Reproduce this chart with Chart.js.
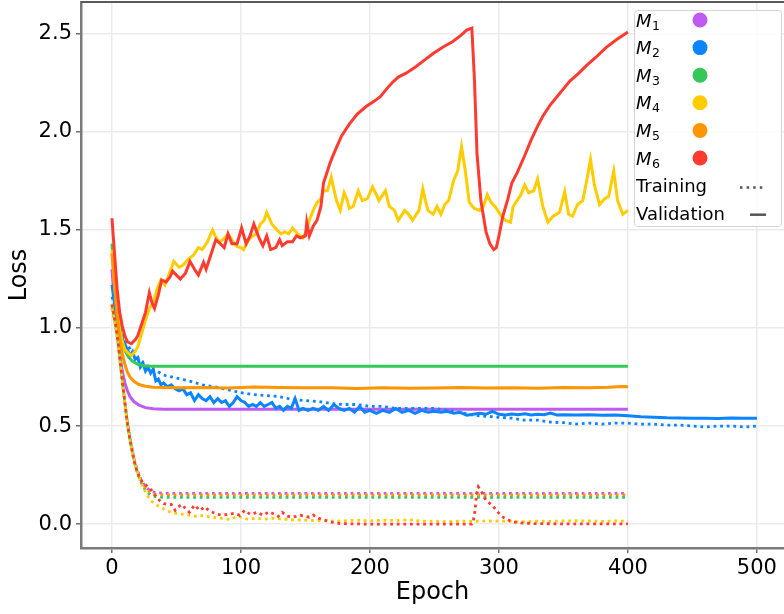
<!DOCTYPE html>
<html>
<head>
<meta charset="utf-8">
<script src="https://cdn.jsdelivr.net/npm/chart.js@4.4.1/dist/chart.umd.min.js"></script>
<style>
  body { margin: 0; background: #fff; }
  canvas { display: block; }
</style>
</head>
<body>
<canvas id="lossChart" width="784" height="614"></canvas>
<script>
// tick labels
const xTicks = [0, 100, 200, 300, 400, 500];
const yTicks = [0, 0.5, 1.0, 1.5, 2.0, 2.5];

const modelNames = ['1', '2', '3', '4', '5', '6'];
const modelColors = ['#BF5AF2', '#0A84FF', '#34C759', '#FFCC00', '#FF9500', '#FF3B30'];

// [epoch, loss]
const m1Train = [[0,1.10],[2,1.04],[4,0.96],[6,0.85],[8,0.73],[10,0.62],[12,0.52],[14,0.44],[16,0.37],[18,0.31],[20,0.27],[22,0.235],[24,0.21],[27,0.185],[30,0.168],[34,0.16],[40,0.157],[400,0.157]];
const m1Val = [[0,1.30],[2,1.13],[4,0.99],[6,0.87],[8,0.78],[10,0.72],[12,0.68],[14,0.65],[17,0.625],[21,0.606],[26,0.594],[32,0.588],[40,0.586],[400,0.586]];

const m2Train = [[0,1.16],[3,1.09],[6,1.03],[9,0.97],[12,0.92],[15,0.88],[18,0.86],[21,0.84],[25,0.82],[30,0.79],[35,0.78],[40,0.76],[50,0.745],[60,0.73],[70,0.71],[80,0.70],[90,0.685],[100,0.67],[110,0.66],[120,0.655],[130,0.65],[140,0.635],[150,0.63],[160,0.625],[170,0.615],[180,0.61],[190,0.61],[200,0.60],[210,0.60],[220,0.59],[230,0.59],[240,0.59],[250,0.59],[260,0.58],[270,0.57],[280,0.555],[290,0.55],[300,0.545],[310,0.54],[320,0.53],[330,0.53],[340,0.52],[350,0.517],[360,0.51],[370,0.515],[380,0.51],[390,0.515],[400,0.515],[410,0.51],[420,0.51],[430,0.505],[440,0.505],[450,0.50],[460,0.495],[470,0.50],[480,0.50],[490,0.495],[500,0.50]];
const m2Val = [[0,1.22],[3,1.08],[6,0.99],[9,0.93],[12,0.89],[14,0.86],[16,0.88],[18,0.84],[20,0.85],[22,0.80],[24,0.82],[26,0.78],[28,0.80],[30,0.77],[32,0.79],[34,0.73],[36,0.74],[38,0.71],[40,0.72],[43,0.70],[46,0.71],[49,0.69],[52,0.68],[55,0.69],[58,0.66],[61,0.67],[64,0.63],[67,0.66],[70,0.64],[73,0.63],[76,0.65],[79,0.62],[82,0.64],[85,0.62],[88,0.63],[91,0.60],[94,0.62],[97,0.65],[100,0.63],[103,0.62],[106,0.60],[109,0.61],[112,0.60],[115,0.62],[118,0.60],[121,0.61],[124,0.62],[127,0.59],[130,0.60],[133,0.58],[136,0.60],[139,0.59],[142,0.64],[145,0.58],[148,0.59],[152,0.58],[156,0.59],[160,0.58],[164,0.60],[168,0.58],[172,0.61],[176,0.59],[180,0.58],[184,0.59],[188,0.57],[192,0.60],[196,0.57],[200,0.58],[205,0.565],[210,0.58],[215,0.57],[220,0.59],[225,0.57],[230,0.58],[235,0.565],[240,0.58],[245,0.57],[250,0.575],[255,0.57],[260,0.575],[265,0.565],[270,0.57],[275,0.555],[280,0.56],[285,0.565],[290,0.56],[295,0.575],[300,0.56],[305,0.556],[310,0.562],[315,0.558],[320,0.563],[325,0.556],[330,0.56],[335,0.558],[340,0.566],[345,0.556],[350,0.558],[360,0.556],[370,0.558],[380,0.555],[390,0.556],[400,0.553],[410,0.547],[420,0.545],[430,0.542],[440,0.541],[450,0.54],[460,0.54],[470,0.539],[480,0.541],[490,0.54],[500,0.54]];

const m3Train = [[0,1.11],[2,1.05],[4,0.97],[6,0.86],[8,0.74],[10,0.62],[12,0.51],[14,0.43],[16,0.36],[18,0.30],[20,0.255],[22,0.22],[24,0.195],[27,0.165],[30,0.148],[34,0.14],[40,0.136],[400,0.136]];
const m3Val = [[0,1.43],[2,1.26],[4,1.11],[6,1.00],[8,0.93],[10,0.885],[13,0.85],[16,0.83],[20,0.815],[25,0.808],[30,0.805],[400,0.805]];

const m4Train = [[0,1.10],[2,1.04],[4,0.96],[6,0.85],[8,0.73],[10,0.62],[12,0.51],[14,0.43],[16,0.36],[18,0.30],[20,0.26],[22,0.22],[24,0.19],[27,0.15],[30,0.12],[34,0.10],[38,0.085],[42,0.07],[46,0.06],[50,0.055],[55,0.05],[60,0.045],[64,0.04],[68,0.045],[72,0.04],[78,0.035],[84,0.03],[91,0.024],[98,0.04],[102,0.03],[106,0.024],[112,0.03],[118,0.025],[125,0.03],[132,0.025],[140,0.022],[150,0.02],[161,0.017],[175,0.015],[190,0.02],[200,0.016],[210,0.02],[220,0.018],[230,0.022],[240,0.015],[250,0.015],[260,0.012],[270,0.015],[280,0.014],[290,0.016],[300,0.015],[310,0.014],[320,0.012],[330,0.015],[340,0.014],[350,0.016],[360,0.017],[370,0.016],[380,0.014],[390,0.016],[400,0.015]];
const m4Val = [[0,1.40],[2,1.22],[4,1.08],[6,0.99],[8,0.93],[10,0.89],[13,0.87],[15,0.86],[18,0.88],[20,0.905],[23,0.97],[26,1.04],[29,1.10],[32,1.13],[35,1.20],[38,1.245],[41,1.22],[44,1.27],[48,1.34],[52,1.31],[55,1.32],[59,1.35],[63,1.37],[67,1.41],[70,1.40],[74,1.44],[78,1.50],[80,1.47],[83,1.44],[86,1.45],[90,1.48],[94,1.44],[97,1.415],[100,1.41],[102,1.40],[106,1.45],[109,1.47],[112,1.48],[115,1.53],[118,1.55],[120,1.59],[124,1.53],[128,1.50],[131,1.48],[134,1.49],[137,1.48],[140,1.51],[144,1.48],[148,1.46],[151,1.50],[153,1.55],[156,1.60],[159,1.64],[162,1.66],[164,1.70],[167,1.70],[170,1.77],[172,1.71],[174,1.65],[177,1.60],[180,1.69],[182,1.66],[184,1.61],[187,1.62],[191,1.70],[194,1.65],[198,1.66],[202,1.72],[205,1.68],[207,1.65],[209,1.67],[212,1.70],[215,1.62],[219,1.60],[222,1.55],[225,1.58],[227,1.60],[230,1.58],[233,1.55],[236,1.58],[238,1.60],[241,1.71],[243,1.65],[245,1.60],[249,1.58],[252,1.62],[255,1.58],[258,1.63],[261,1.65],[265,1.755],[268,1.80],[271,1.925],[274,1.80],[277,1.64],[281,1.61],[285,1.60],[288,1.62],[291,1.68],[294,1.64],[297,1.62],[302,1.57],[305,1.55],[309,1.54],[311,1.62],[314,1.65],[317,1.68],[320,1.73],[323,1.69],[327,1.70],[330,1.76],[334,1.62],[338,1.54],[342,1.57],[347,1.59],[351,1.695],[354,1.58],[357,1.57],[361,1.63],[365,1.65],[368,1.75],[371,1.86],[374,1.73],[378,1.63],[382,1.66],[385,1.67],[389,1.80],[392,1.65],[396,1.58],[400,1.60]];

const m5Train = [[0,1.12],[2,1.05],[4,0.97],[6,0.855],[8,0.735],[10,0.62],[12,0.515],[14,0.435],[16,0.365],[18,0.305],[20,0.26],[22,0.23],[24,0.205],[27,0.175],[30,0.16],[34,0.152],[40,0.149],[400,0.149]];
const m5Val = [[0,1.38],[2,1.22],[4,1.06],[6,0.95],[8,0.87],[10,0.815],[12,0.775],[14,0.75],[17,0.728],[21,0.712],[26,0.703],[32,0.698],[50,0.695],[70,0.697],[90,0.694],[110,0.699],[130,0.697],[150,0.695],[170,0.696],[190,0.692],[210,0.695],[230,0.693],[250,0.694],[270,0.697],[290,0.694],[310,0.696],[330,0.693],[350,0.697],[370,0.696],[385,0.698],[395,0.702],[400,0.701]];

const m6Train = [[0,1.12],[2,1.05],[4,0.97],[6,0.85],[8,0.73],[10,0.62],[12,0.51],[14,0.43],[16,0.36],[18,0.30],[20,0.26],[22,0.23],[24,0.21],[28,0.19],[31,0.17],[34,0.14],[37,0.12],[40,0.105],[43,0.10],[46,0.10],[49,0.07],[52,0.09],[54,0.10],[57,0.08],[60,0.06],[64,0.097],[68,0.07],[72,0.088],[75,0.07],[78,0.06],[82,0.05],[86,0.045],[90,0.05],[95,0.055],[99,0.045],[103,0.07],[107,0.05],[110,0.055],[113,0.06],[117,0.045],[122,0.063],[126,0.05],[129,0.04],[132,0.06],[136,0.04],[140,0.035],[143,0.04],[146,0.045],[150,0.04],[153,0.035],[156,0.046],[160,0.03],[165,0.02],[169,0.012],[174,0.005],[178,0.002],[200,0.0],[240,0.0],[279,0.0],[280,0.01],[281.5,0.07],[282.7,0.157],[284,0.19],[286.5,0.165],[290,0.12],[295,0.095],[298,0.07],[302,0.04],[306,0.025],[311,0.01],[319,0.005],[330,0.002],[360,0.001],[400,0.001]];
const m6Val = [[0,1.56],[2,1.38],[4,1.20],[6,1.08],[8,1.01],[10,0.96],[12,0.93],[15,0.92],[18,0.94],[20,0.96],[22,1.00],[24,1.04],[26,1.08],[29,1.18],[31,1.13],[33,1.10],[36,1.17],[38.5,1.245],[42,1.235],[45,1.26],[47,1.29],[50,1.27],[53,1.25],[57,1.28],[60.5,1.34],[64,1.30],[67,1.27],[71,1.335],[73,1.30],[77,1.38],[80.5,1.45],[84,1.43],[87,1.41],[90,1.48],[93,1.43],[97,1.43],[100.5,1.51],[104,1.43],[107,1.47],[110,1.53],[114,1.46],[117,1.42],[120,1.47],[123,1.40],[127,1.41],[130,1.45],[132,1.42],[136,1.44],[140,1.44],[143,1.47],[146,1.46],[150,1.47],[151,1.54],[153,1.47],[156,1.52],[159,1.55],[162,1.62],[164,1.74],[167,1.80],[169,1.84],[172,1.89],[174,1.92],[178,1.98],[184,2.04],[190,2.09],[197,2.13],[204,2.16],[208,2.18],[213,2.22],[217,2.25],[222,2.28],[228,2.30],[235,2.33],[241,2.36],[249,2.40],[257,2.435],[264,2.46],[270,2.49],[275,2.52],[279,2.53],[281,2.27],[283,1.89],[286,1.65],[288,1.57],[290,1.49],[293,1.43],[296,1.40],[298,1.41],[300,1.47],[303,1.57],[307,1.66],[310,1.74],[314,1.79],[320,1.88],[325,1.96],[330,2.03],[334,2.08],[340,2.14],[345,2.18],[350,2.22],[355,2.26],[362,2.30],[368,2.34],[375,2.38],[383,2.43],[391,2.47],[400,2.51]];

const trainSeries = [m1Train, m2Train, m3Train, m4Train, m5Train, m6Train];
const valSeries = [m1Val, m2Val, m3Val, m4Val, m5Val, m6Val];

const FONT = '"DejaVu Sans", "Liberation Sans", sans-serif';

function toPoints(pairs) {
    return pairs.map(p => ({ x: p[0], y: p[1] }));
}

// build datasets, later models drawn on top
const datasets = [];
modelNames.forEach((name, i) => {
    datasets.push({
        label: 'M' + name + ' training',
        data: toPoints(trainSeries[i]),
        borderColor: modelColors[i],
        borderWidth: 2.8,
        borderDash: [2.8, 3.8],
        borderCapStyle: 'butt',
        pointRadius: 0,
        fill: false
    });
    datasets.push({
        label: 'M' + name + ' validation',
        data: toPoints(valSeries[i]),
        borderColor: modelColors[i],
        borderWidth: 3,
        pointRadius: 0,
        fill: false
    });
});
datasets.forEach((d, i) => { d.order = datasets.length - i; });

// the legend box on the right, drawn by hand (matplotlib style)
const boxLegend = {
    id: 'boxLegend',
    afterDraw(chart) {
        const ctx = chart.ctx;
        const area = chart.chartArea;
        ctx.save();

        // top spine
        ctx.strokeStyle = '#5a5a5a';
        ctx.lineWidth = 2;
        ctx.beginPath();
        ctx.moveTo(area.left, area.top);
        ctx.lineTo(area.right, area.top);
        ctx.stroke();

        const bx = 634, by = 10, bw = 147, bh = 216;
        ctx.fillStyle = 'rgba(255,255,255,0.85)';
        ctx.strokeStyle = '#d4d4d4';
        ctx.lineWidth = 1;
        ctx.beginPath();
        ctx.roundRect(bx + 0.5, by + 0.5, bw, bh, 3);
        ctx.fill();
        ctx.stroke();

        const rowY = i => 20 + 27.6 * i;
        ctx.textBaseline = 'alphabetic';
        ctx.textAlign = 'left';
        modelNames.forEach((name, i) => {
            const cy = rowY(i);
            ctx.fillStyle = '#000';
            ctx.font = 'italic 18px ' + FONT;
            ctx.fillText('M', 636, cy + 6.5);
            const mw = ctx.measureText('M').width;
            ctx.font = '12.5px ' + FONT;
            ctx.fillText(name, 636 + mw + 0.5, cy + 9.5);

            ctx.fillStyle = modelColors[i];
            ctx.beginPath();
            ctx.arc(700, cy, 7.5, 0, Math.PI * 2);
            ctx.fill();
        });

        ctx.fillStyle = '#000';
        ctx.font = '18px ' + FONT;
        ctx.fillText('Training', 636, rowY(6) + 6.5);
        ctx.fillText('Validation', 636, rowY(7) + 6.5);

        ctx.strokeStyle = '#555';
        ctx.lineWidth = 2.5;
        ctx.setLineDash([2.5, 4.1]);
        ctx.beginPath();
        ctx.moveTo(740, rowY(6) + 2);
        ctx.lineTo(766, rowY(6) + 2);
        ctx.stroke();
        ctx.setLineDash([]);
        ctx.beginPath();
        ctx.moveTo(750, rowY(7) + 1.5);
        ctx.lineTo(766, rowY(7) + 1.5);
        ctx.stroke();

        ctx.restore();
    }
};

const ctx = document.getElementById('lossChart').getContext('2d');
new Chart(ctx, {
    type: 'line',
    data: { datasets: datasets },
    options: {
        responsive: false,
        animation: false,
        devicePixelRatio: 1,
        layout: { padding: { top: 2, right: 0, left: 0, bottom: 0 } },
        plugins: {
            legend: { display: false },
            tooltip: { enabled: false }
        },
        scales: {
            x: {
                type: 'linear',
                min: -24,
                max: 521,
                afterBuildTicks: axis => { axis.ticks = xTicks.map(v => ({ value: v })); },
                afterFit: axis => {
                    axis.height = 66;
                    axis.paddingLeft = 0;
                    axis.paddingRight = 0;
                },
                grid: {
                    color: '#ebebeb',
                    lineWidth: 1.5,
                    tickColor: '#6e6e6e',
                    tickLength: 5,
                    tickWidth: 1.5
                },
                border: { color: '#7a7a7a', width: 2.5 },
                ticks: {
                    color: '#000',
                    font: { family: FONT, size: 21 },
                    padding: 3,
                    maxRotation: 0
                },
                title: {
                    display: true,
                    text: 'Epoch',
                    color: '#000',
                    font: { family: FONT, size: 24 },
                    padding: { top: 0, bottom: 7 }
                }
            },
            y: {
                min: -0.122,
                max: 2.663,
                afterBuildTicks: axis => { axis.ticks = yTicks.map(v => ({ value: v })); },
                afterFit: axis => {
                    axis.width = 81;
                    axis.paddingTop = 0;
                    axis.paddingBottom = 0;
                },
                grid: {
                    color: '#ebebeb',
                    lineWidth: 1.5,
                    tickColor: '#6e6e6e',
                    tickLength: 5,
                    tickWidth: 1.5
                },
                border: { color: '#7a7a7a', width: 2.5 },
                ticks: {
                    color: '#000',
                    font: { family: FONT, size: 21 },
                    padding: 4,
                    callback: v => v.toFixed(1)
                },
                title: {
                    display: true,
                    text: 'Loss',
                    color: '#000',
                    font: { family: FONT, size: 24 },
                    padding: { top: 5, bottom: 0 }
                }
            }
        }
    },
    plugins: [boxLegend]
});
</script>
</body>
</html>
